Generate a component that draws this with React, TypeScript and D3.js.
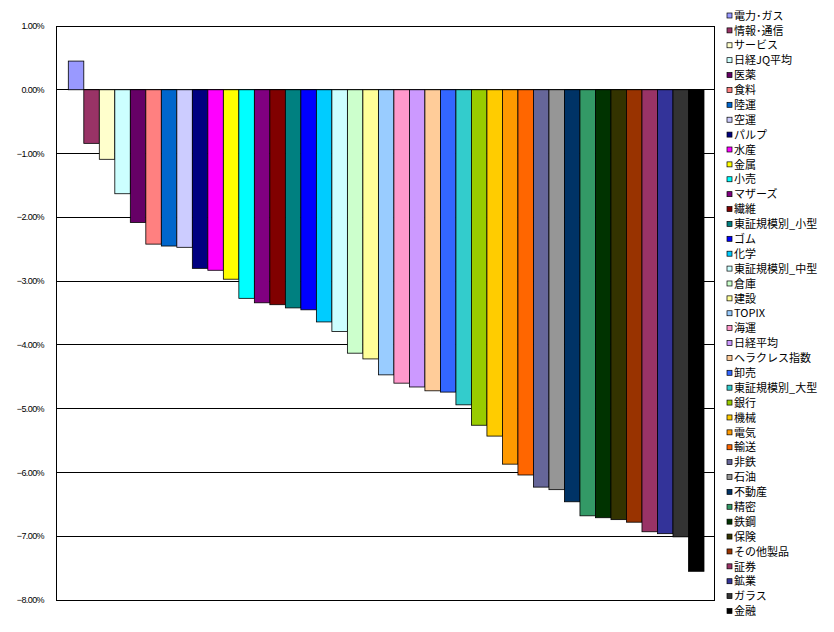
import React from "react";
import * as d3 from "d3";

const categories = [
  "電力･ガス", "情報･通信", "サービス", "日経JQ平均", "医薬", "食料", "陸運", "空運", "パルプ", "水産",
  "金属", "小売", "マザーズ", "繊維", "東証規模別_小型", "ゴム", "化学", "東証規模別_中型", "倉庫", "建設",
  "TOPIX", "海運", "日経平均", "ヘラクレス指数", "卸売", "東証規模別_大型", "銀行", "機械", "電気", "輸送",
  "非鉄", "石油", "不動産", "精密", "鉄鋼", "保険", "その他製品", "証券", "鉱業", "ガラス", "金融",
];

const values = [
  0.45, -0.84, -1.09, -1.63, -2.08, -2.42, -2.45, -2.47, -2.8, -2.83,
  -2.97, -3.27, -3.34, -3.37, -3.42, -3.45, -3.64, -3.79, -4.13, -4.22,
  -4.47, -4.6, -4.66, -4.72, -4.74, -4.94, -5.26, -5.43, -5.87, -6.04,
  -6.23, -6.27, -6.46, -6.68, -6.71, -6.74, -6.78, -6.93, -6.96, -7.01, -7.55,
];

const colors = [
  "#9999FF", "#993366", "#FFFFCC", "#CCFFFF", "#660066", "#FF8080", "#0066CC", "#CCCCFF", "#000080", "#FF00FF",
  "#FFFF00", "#00FFFF", "#800080", "#800000", "#008080", "#0000FF", "#00CCFF", "#CCFFFF", "#CCFFCC", "#FFFF99",
  "#99CCFF", "#FF99CC", "#CC99FF", "#FFCC99", "#3366FF", "#33CCCC", "#99CC00", "#FFCC00", "#FF9900", "#FF6600",
  "#666699", "#969696", "#003366", "#339966", "#003300", "#333300", "#993300", "#993366", "#333399", "#333333", "#000000",
];

const yTicks = [1, 0, -1, -2, -3, -4, -5, -6, -7, -8];

export default function App() {
  const W = 834, H = 632;
  const left = 56.5, right = 714.5, top = 26, bottom = 600;
  const y = d3.scaleLinear().domain([-8, 1]).range([bottom, top]);
  const x = d3.scaleBand<string>().domain(categories).range([68.3, 704]).padding(0);
  const legendY = d3.scalePoint<string>().domain(categories).range([15.5, 611]);
  const fmt = (v: number) => d3.format(".2f")(v) + "%";

  return (
    <svg width={W} height={H} style={{ position: "absolute", left: 0, top: 0, background: "#fff" }}>
      <rect x={0} y={0} width={W} height={H} fill="#fff" />
      {yTicks.map((t) => (
        <line key={"g" + t} x1={left} x2={right} y1={y(t)} y2={y(t)} stroke="#000" strokeWidth={1} shapeRendering="crispEdges" />
      ))}
      {categories.map((c, i) => {
        const v = values[i];
        const y0 = y(0), y1 = y(v);
        return (
          <rect
            key={c}
            x={x(c)!}
            y={Math.min(y0, y1)}
            width={x.bandwidth()}
            height={Math.abs(y1 - y0)}
            fill={colors[i]}
            stroke="#000"
            strokeWidth={0.8}
          />
        );
      })}
      <rect x={left} y={top} width={right - left} height={bottom - top} fill="none" stroke="#000" strokeWidth={1} shapeRendering="crispEdges" />
      {yTicks.map((t) => (
        <text
          key={"t" + t}
          x={44}
          y={y(t)}
          dy="0.35em"
          textAnchor="end"
          fontFamily="'Liberation Sans', Arial, sans-serif"
          fontSize={9}
          letterSpacing={-0.6}
          fill="#000"
        >
          {fmt(t)}
        </text>
      ))}
      {categories.map((c, i) => (
        <g key={"l" + c} transform={`translate(0,${legendY(c)})`}>
          <rect x={727} y={-2.5} width={5} height={5} fill={colors[i]} stroke="#000" strokeWidth={0.7} />
          <text x={734} y={0} dy="0.38em" fontFamily="'Noto Sans CJK JP', sans-serif" fontSize={11} fill="#000">
            {c}
          </text>
        </g>
      ))}
    </svg>
  );
}
